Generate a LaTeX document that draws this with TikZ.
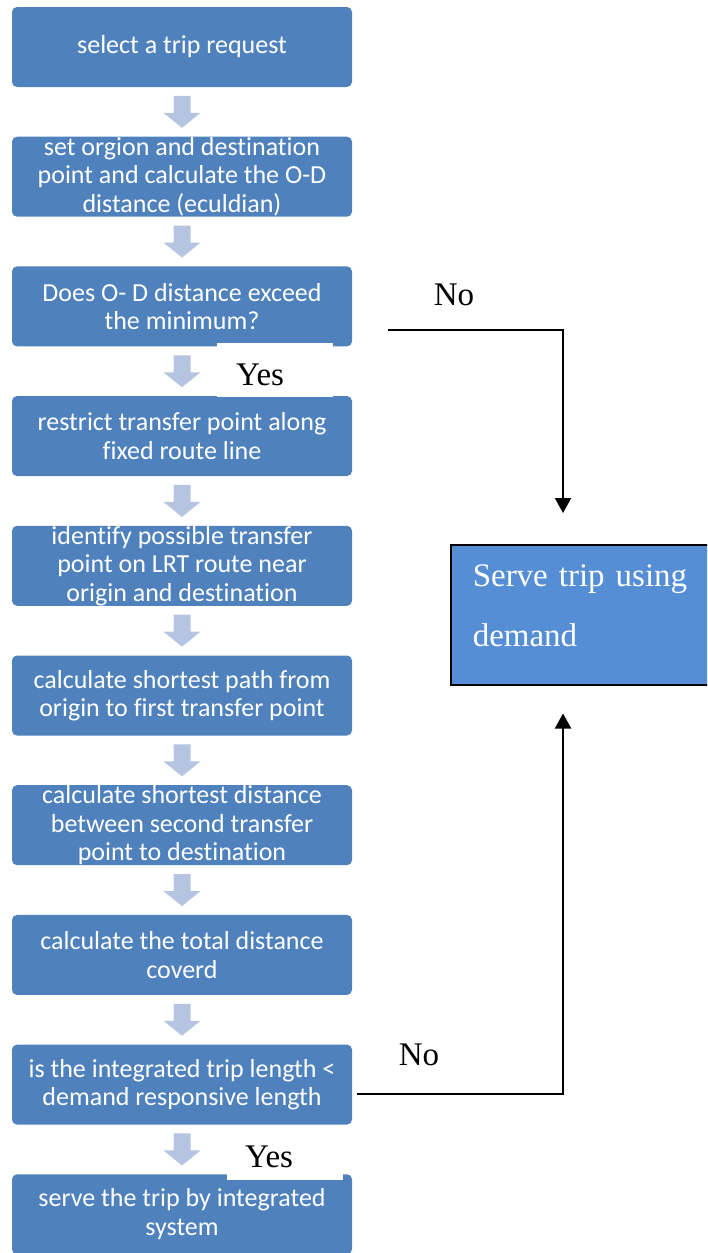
\documentclass[tikz,border=0pt]{standalone}
\usepackage{fontspec}
\setmainfont{Liberation Serif}
\newfontfamily\calibri[Ligatures=NoCommon]{Carlito}
\usetikzlibrary{positioning, calc, arrows.meta}
\definecolor{boxblue}{HTML}{4F81BD}
\definecolor{gapblue}{HTML}{B4C4E1}
\definecolor{serveblue}{HTML}{558ED5}

\begin{document}
\begin{tikzpicture}[x=1pt, y=-1pt, node distance=129.7pt, on grid,
  task/.style={rectangle, rounded corners=5pt, fill=boxblue, text=white,
    minimum width=340pt, minimum height=80pt, inner sep=0pt, align=center,
    font=\calibri\fontsize{26}{28.5}\selectfont},
  answer/.style={fill=white, inner sep=0pt, font=\fontsize{33}{36}\selectfont},
  flow/.style={draw, line width=2pt, -{Triangle[width=16pt, length=15pt]}}]
  \clip (0,0) rectangle (707,1253);

  \node[task] (b1) at (182,47) {select a trip request};
  \node[task] (b2) [below=of b1] {set orgion and destination\\point  and calculate the O-D\\distance (eculdian)};
  \node[task] (b3) [below=of b2] {Does O- D distance exceed\\the minimum?};
  \node[task] (b4) [below=of b3] {restrict transfer point along\\fixed route line};
  \node[task] (b5) [below=of b4] {identify possible transfer\\point on LRT route near\\origin and destination};
  \node[task] (b6) [below=of b5] {calculate shortest  path from\\origin to first transfer point};
  \node[task] (b7) [below=of b6] {calculate shortest distance\\between second transfer\\point to destination};
  \node[task] (b8) [below=of b7] {calculate  the total distance\\coverd};
  \node[task] (b9) [below=of b8] {is  the integrated trip length <\\demand responsive length};
  \node[task] (b10) [below=of b9] {serve the trip by integrated\\system};

  % block arrows between the steps
  \foreach \a/\b in {b1/b2, b2/b3, b3/b4, b4/b5, b5/b6, b6/b7, b7/b8, b8/b9, b9/b10}
    \fill[gapblue] ($(\a.south)!.5!(\b.north)$) ++(-8.5,-16) -- ++(17,0) -- ++(0,17)
      -- ++(10,0) -- ++(-18.5,15) -- ++(-18.5,-15) -- ++(10,0) -- cycle;

  \node[answer, minimum width=116pt, minimum height=54pt, text width=78pt,
    inner xsep=19pt, text height=30pt, text depth=0pt, align=left] (yes1)
    at ($(b3.south)!.5!(b4.north)+(93,-1)$) {Yes};
  \node[answer, minimum width=116pt, minimum height=48pt, text width=80pt,
    inner xsep=18pt, text height=24pt, text depth=0pt, align=left] (yes2)
    at ($(b9.south)!.5!(b10.north)+(103,6.5)$) {Yes};
  \node[answer, anchor=base] (no1) at (454,305) {No};
  \node[answer, anchor=base] (no2) at (419,1065) {No};

  \node[rectangle, draw=black, line width=1.5pt, fill=serveblue, text=white,
    anchor=north west, minimum width=270pt, minimum height=140pt,
    text width=226pt, inner xsep=22pt, text depth=78pt, align=left,
    font=\fontsize{33}{60}\selectfont] (serve) at (450,544) {Serve trip using\\demand};

  \coordinate (n1) at ($(b3.east)+(36,24)$);
  \coordinate (n2) at ($(b9.east)+(5,9)$);
  \draw[flow, shorten >=31pt] (n1) -| ([xshift=113pt]serve.north west);
  \draw[flow, shorten >=28pt] (n2) -| ([xshift=113pt]serve.south west);
\end{tikzpicture}
\end{document}
